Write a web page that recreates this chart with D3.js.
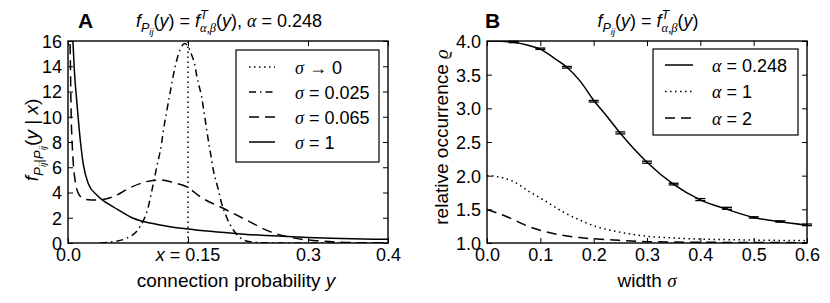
<!DOCTYPE html>
<html>
<head>
<meta charset="utf-8">
<script src="https://cdn.jsdelivr.net/npm/d3@7"></script>
<style>
body { margin: 0; background: #fff; }
text { font-family: "Liberation Sans", Arial, sans-serif; fill: #000; white-space: pre; }
</style>
</head>
<body>
<svg id="fig" width="830" height="303"></svg>
<script>
// ---- panel A : f(y | x) for several widths sigma, x = 0.15
var xPeak = 0.15;                       // sigma -> 0 : delta at x
var sigma025 = [[0.04,0],[0.056,0.1],[0.073,0.37],[0.09,1.29],[0.1004,2.88],[0.1067,4.73],[0.111,6.04],
  [0.117,7.9],[0.119,8.8],[0.1233,10.4],[0.1275,11.86],[0.1317,13.3],[0.136,14.5],[0.14,15.3],[0.146,15.8],
  [0.1546,14.9],[0.159,13.96],[0.161,13.2],[0.164,12.4],[0.167,11.6],[0.169,10.8],[0.171,10.0],[0.173,9.1],
  [0.175,8.3],[0.1775,7.37],[0.1817,5.78],[0.188,4.2],[0.192,3.14],[0.198,2.08],[0.2067,1.03],[0.215,0.42],
  [0.2275,0.1],[0.25,0.01],[0.4,0]];
var sigma065 = [[0.0015,17],[0.0025,16],[0.004,10],[0.0055,7.5],[0.0067,6.2],[0.0088,5],[0.0129,3.93],
  [0.021,3.46],[0.036,3.4],[0.0567,3.67],[0.0775,4.38],[0.098,4.86],[0.115,4.99],[0.132,4.78],[0.15,4.4],
  [0.165,3.67],[0.194,2.75],[0.223,1.82],[0.2525,0.9],[0.28,0.42],[0.315,0.16],[0.356,0.03],[0.4,0.005]];
var sigma1 = [[0.0045,18],[0.006,16.2],[0.008,13.6],[0.011,11.2],[0.0156,8],[0.0192,6.2],[0.0254,4.7],
  [0.036,3.8],[0.042,3.45],[0.057,2.85],[0.08,2.0],[0.115,1.43],[0.15,1.1],[0.22,0.7],[0.3,0.44],[0.4,0.29]];
var aTicksX = [0, 0.15, 0.3, 0.4];
var aTicksY = [0, 2, 4, 6, 8, 10, 12, 14, 16];

// ---- panel B : relative occurrence vs width sigma
var alpha0248 = [[0,4.0],[0.025,3.997],[0.05,3.98],[0.075,3.94],[0.1,3.88],[0.125,3.75],[0.15,3.61],
  [0.175,3.40],[0.2,3.12],[0.225,2.88],[0.25,2.63],[0.3,2.2],[0.35,1.87],[0.4,1.64],[0.45,1.5],
  [0.5,1.38],[0.55,1.315],[0.6,1.265]];
var alpha0248Sim = [[0.05,3.985,0.01],[0.1,3.885,0.01],[0.15,3.61,0.012],[0.2,3.105,0.012],[0.25,2.635,0.015],
  [0.3,2.2,0.015],[0.35,1.875,0.012],[0.4,1.645,0.015],[0.45,1.515,0.015],[0.5,1.38,0.01],[0.55,1.32,0.01],
  [0.6,1.27,0.012]];
var alpha1 = [[0,2.0],[0.02,1.985],[0.05,1.91],[0.08,1.76],[0.112,1.61],[0.143,1.46],[0.174,1.34],
  [0.206,1.24],[0.237,1.18],[0.3,1.10],[0.362,1.07],[0.487,1.045],[0.6,1.035]];
var alpha2 = [[0,1.5],[0.0375,1.39],[0.08,1.24],[0.124,1.14],[0.174,1.08],[0.237,1.045],[0.3,1.02],
  [0.424,1.01],[0.6,1.005]];
var bTicksX = [0, 0.1, 0.2, 0.3, 0.4, 0.5, 0.6];
var bTicksY = [1.0, 1.5, 2.0, 2.5, 3.0, 3.5, 4.0];

var svg = d3.select("#fig");
var FS = 18;

var DOT = "1.5,3.5", DASHDOT = "7,4,1.5,4", DASH = "10,6";

// small layout helper for math-like labels (sub/superscripts)
function mathText(parent, pieces, size) {
  var g = parent.append("g"), x = 0, prevX = 0, prevW = 0;
  var lv = {"0": [1, 0], "1": [0.7, 0.25], "2": [0.52, 0.42], "-1": [0.7, -0.45]};
  pieces.forEach(function(p) {
    var l = lv[p.l || 0];
    var px = p.stack ? prevX : x;
    var t = g.append("text")
      .attr("x", px).attr("y", l[1] * size)
      .style("font-size", (l[0] * size) + "px")
      .style("font-style", (p.i || p.g) ? "italic" : "normal")
      .text(p.t);
    if (p.g) t.style("font-family", "'Liberation Serif', 'DejaVu Serif', serif");
    var w = t.node().getComputedTextLength();
    if (p.stack) { x = prevX + Math.max(prevW, w); }
    else { prevX = x; prevW = w; x += w; }
  });
  g.datum(x);
  return g;
}
function place(g, x, y, anchor, rot) {
  var w = g.datum(), off = anchor === "middle" ? -w / 2 : anchor === "end" ? -w : 0;
  g.attr("transform", "translate(" + x + "," + y + ")" + (rot ? " rotate(" + rot + ")" : "") + " translate(" + off + ",0)");
}

function panel(xs, ys, ticksX, ticksY, fmtX, fmtY, id) {
  var g = svg.append("g");
  var r0 = xs.range(), r1 = ys.range();
  g.append("clipPath").attr("id", id).append("rect")
    .attr("x", r0[0]).attr("y", r1[1]).attr("width", r0[1] - r0[0]).attr("height", r1[0] - r1[1]);

  var bx = g.append("g").attr("transform", "translate(0," + r1[0] + ")")
    .call(d3.axisBottom(xs).tickValues(ticksX).tickSizeInner(-5).tickSizeOuter(0).tickPadding(5).tickFormat(fmtX));
  var tx = g.append("g").attr("transform", "translate(0," + r1[1] + ")")
    .call(d3.axisTop(xs).tickValues(ticksX).tickSizeInner(-5).tickSizeOuter(0).tickFormat(""));
  var ly = g.append("g").attr("transform", "translate(" + r0[0] + ",0)")
    .call(d3.axisLeft(ys).tickValues(ticksY).tickSizeInner(-5).tickSizeOuter(0).tickPadding(6).tickFormat(fmtY));
  var ry = g.append("g").attr("transform", "translate(" + r0[1] + ",0)")
    .call(d3.axisRight(ys).tickValues(ticksY).tickSizeInner(-5).tickSizeOuter(0).tickFormat(""));
  [bx, tx, ly, ry].forEach(function(a) {
    a.select(".domain").remove();
    a.selectAll("line").attr("stroke", "#000").attr("stroke-width", 1);
    a.selectAll("text").attr("font-family", null).style("font-size", FS + "px").attr("fill", "#000");
  });
  ly.selectAll("text").attr("dy", "0.36em");

  var plot = g.append("g").attr("clip-path", "url(#" + id + ")");
  g.append("rect").attr("x", r0[0]).attr("y", r1[1]).attr("width", r0[1] - r0[0]).attr("height", r1[0] - r1[1])
    .attr("fill", "none").attr("stroke", "#000").attr("stroke-width", 1.4);
  return {g: g, plot: plot, bx: bx};
}

function curve(plot, xs, ys, data, dash) {
  plot.append("path").datum(data)
    .attr("d", d3.line().x(function(d) { return xs(d[0]); }).y(function(d) { return ys(d[1]); }).curve(d3.curveMonotoneX))
    .attr("fill", "none").attr("stroke", "#000").attr("stroke-width", 1.5)
    .attr("stroke-dasharray", dash);
}

function legend(x, y, w, h, items, sx, tx, step, first) {
  var g = svg.append("g");
  g.append("rect").attr("x", x).attr("y", y).attr("width", w).attr("height", h)
    .attr("fill", "#fff").attr("stroke", "#000").attr("stroke-width", 1.2);
  items.forEach(function(it, i) {
    var cy = first + i * step;
    g.append("line").attr("x1", sx[0]).attr("x2", sx[1]).attr("y1", cy).attr("y2", cy)
      .attr("stroke", "#000").attr("stroke-width", 1.5).attr("stroke-dasharray", it.dash);
    place(mathText(g, it.label, FS), tx, cy + 6.5, "start");
  });
}

// ================= Panel A =================
var xA = d3.scaleLinear().domain([0, 0.4]).range([68, 388]);
var yA = d3.scaleLinear().domain([0, 16]).range([243, 41]);
var A = panel(xA, yA, aTicksX, aTicksY,
  function(d) { return d === xPeak ? "" : d3.format(".1f")(d); },
  function(d) { return d; }, "clipA");

A.plot.append("line").attr("x1", xA(xPeak)).attr("x2", xA(xPeak)).attr("y1", yA(0)).attr("y2", yA(16))
  .attr("stroke", "#000").attr("stroke-width", 1.5).attr("stroke-dasharray", DOT);
curve(A.plot, xA, yA, sigma025, DASHDOT);
curve(A.plot, xA, yA, sigma065, DASH);
curve(A.plot, xA, yA, sigma1, null);

place(mathText(svg, [{t: "x", i: 1}, {t: " = 0.15"}], FS), xA(xPeak), 260.8, "middle");

svg.append("text").attr("x", 78).attr("y", 28).style("font-size", "21px").style("font-weight", "bold").text("A");
place(mathText(svg, [{t: "f", i: 1}, {t: "P", i: 1, l: 1}, {t: "ij", i: 1, l: 2}, {t: "("}, {t: "y", i: 1}, {t: ") = "},
  {t: "f", i: 1}, {t: "T", i: 1, l: -1}, {t: "α,β", g: 1, l: 1, stack: 1}, {t: "("}, {t: "y", i: 1}, {t: "), "},
  {t: "α", g: 1}, {t: " = 0.248"}], FS), 229, 27, "middle");
place(mathText(svg, [{t: "connection probability "}, {t: "y", i: 1}], 19), 236, 287, "middle");
place(mathText(svg, [{t: "f", i: 1}, {t: "P", i: 1, l: 1}, {t: "ij", i: 1, l: 2}, {t: "|", l: 1}, {t: "P", i: 1, l: 1},
  {t: "ij", i: 1, l: 2}, {t: "("}, {t: "y", i: 1}, {t: " | "}, {t: "x", i: 1}, {t: ")"}], 19), 38, 140, "middle", -90);

legend(236, 50, 143, 112, [
  {dash: DOT, label: [{t: "σ", g: 1}, {t: " → 0"}]},
  {dash: DASHDOT, label: [{t: "σ", g: 1}, {t: " = 0.025"}]},
  {dash: DASH, label: [{t: "σ", g: 1}, {t: " = 0.065"}]},
  {dash: null, label: [{t: "σ", g: 1}, {t: " = 1"}]}
], [249, 275], 295, 25, 67);

// ================= Panel B =================
var xB = d3.scaleLinear().domain([0, 0.6]).range([487, 807]);
var yB = d3.scaleLinear().domain([1, 4]).range([243, 41]);
var B = panel(xB, yB, bTicksX, bTicksY, d3.format(".1f"), d3.format(".1f"), "clipB");

curve(B.plot, xB, yB, alpha1, DOT);
curve(B.plot, xB, yB, alpha2, DASH);
curve(B.plot, xB, yB, alpha0248, null);

var eb = B.g.append("g").attr("stroke", "#000").attr("stroke-width", 1.3);
alpha0248Sim.forEach(function(d) {
  var cx = xB(d[0]), y0 = yB(d[1] - d[2]), y1 = yB(d[1] + d[2]);
  eb.append("line").attr("x1", cx).attr("x2", cx).attr("y1", y0).attr("y2", y1);
  eb.append("line").attr("x1", cx - 5).attr("x2", cx + 5).attr("y1", y0).attr("y2", y0);
  eb.append("line").attr("x1", cx - 5).attr("x2", cx + 5).attr("y1", y1).attr("y2", y1);
});

svg.append("text").attr("x", 485).attr("y", 28).style("font-size", "21px").style("font-weight", "bold").text("B");
place(mathText(svg, [{t: "f", i: 1}, {t: "P", i: 1, l: 1}, {t: "ij", i: 1, l: 2}, {t: "("}, {t: "y", i: 1}, {t: ") = "},
  {t: "f", i: 1}, {t: "T", i: 1, l: -1}, {t: "α,β", g: 1, l: 1, stack: 1}, {t: "("}, {t: "y", i: 1}, {t: ")"}], FS), 648, 27, "middle");
place(mathText(svg, [{t: "width "}, {t: "σ", g: 1}], 19), 647, 287, "middle");
place(mathText(svg, [{t: "relative occurrence "}, {t: "ϱ", g: 1}], 19), 448, 137, "middle", -90);

legend(653, 49, 145, 86, [
  {dash: null, label: [{t: "α", g: 1}, {t: " = 0.248"}]},
  {dash: DOT, label: [{t: "α", g: 1}, {t: " = 1"}]},
  {dash: DASH, label: [{t: "α", g: 1}, {t: " = 2"}]}
], [665, 693], 712, 26.5, 65);
</script>
</body>
</html>
